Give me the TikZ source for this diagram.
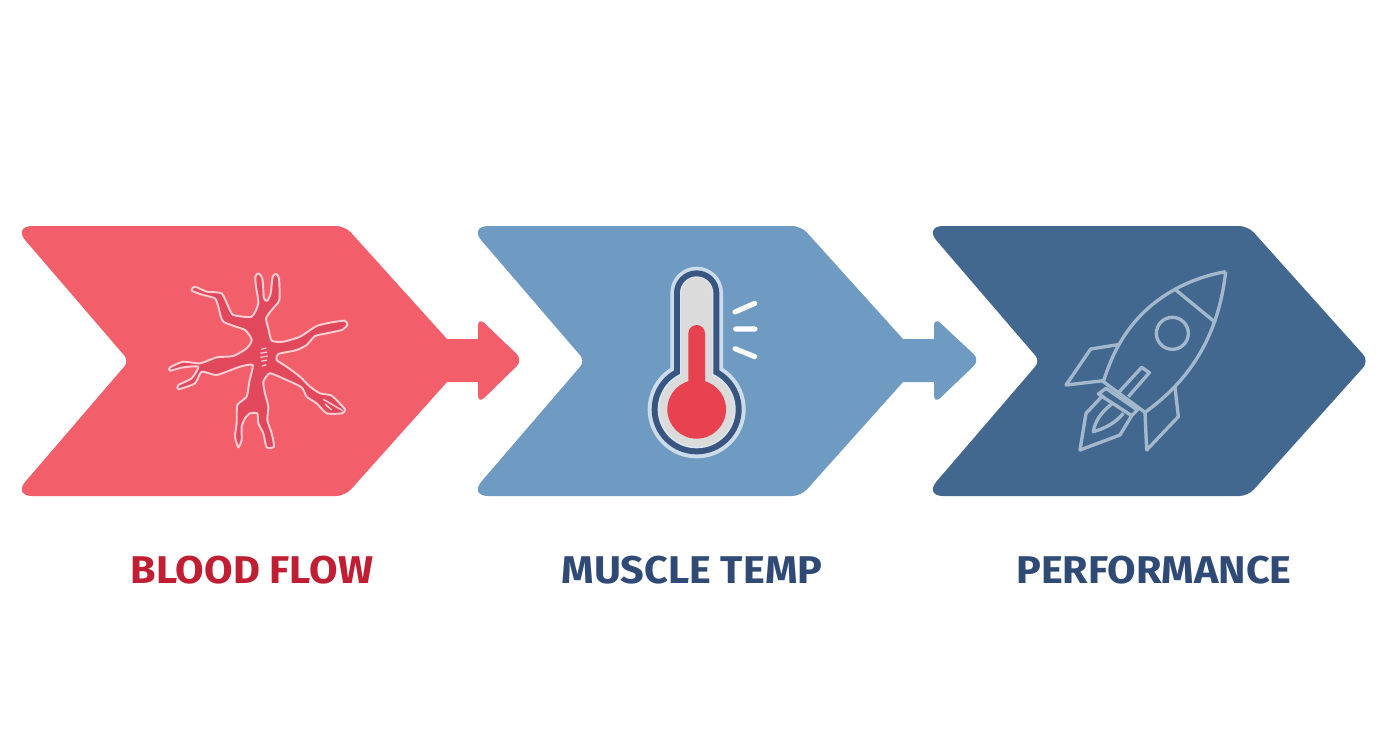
\documentclass[tikz,border=0pt]{standalone}
\usepackage{fontspec}
\setmainfont{Fira Sans}[FakeStretch=1.07]
\definecolor{flowred}{HTML}{F25F6B}
\definecolor{vesselred}{HTML}{E2485C}
\definecolor{thermred}{HTML}{E8414F}
\definecolor{tempblue}{HTML}{6F9BC3}
\definecolor{perfblue}{HTML}{42688F}
\definecolor{rocketline}{HTML}{A3B8CC}
\definecolor{labelred}{HTML}{C01F33}
\definecolor{labelblue}{HTML}{2F4A75}
\tikzset{
	label text/.style={font=\bfseries\fontsize{22}{26}\selectfont},
	rocket stroke/.style={draw=rocketline, line width=1.9pt, line join=round},
}

\begin{document}
\begin{tikzpicture}[x=0.02cm, y=-0.02cm]
	\useasboundingbox (0,0) rectangle (1392,752);

	% Draw chevrons
	% Red
	\fill[flowred] (150,226) [rounded corners=5pt] -- (345,226) [sharp corners] -- (447,339) -- (478,339)
		[rounded corners=5pt] -- (478,317) -- (523,360) -- (478,404) [sharp corners] -- (478,382) -- (447,382)
		[rounded corners=5pt] -- (345,496) [rounded corners=11pt] -- (13,496) [rounded corners=4pt] -- (129,361)
		[rounded corners=11pt] -- (13,226) [sharp corners] -- cycle;
	% Blue
	\fill[tempblue] (606,226) [rounded corners=5pt] -- (801,226) [sharp corners] -- (903,339) -- (934,339)
		[rounded corners=5pt] -- (934,317) -- (980,360) -- (934,404) [sharp corners] -- (934,382) -- (903,382)
		[rounded corners=5pt] -- (801,496) [rounded corners=11pt] -- (469,496) [rounded corners=4pt] -- (585,361)
		[rounded corners=11pt] -- (469,226) [sharp corners] -- cycle;
	% Dark blue
	\fill[perfblue] (1060,226) [rounded corners=5pt] -- (1248,226) -- (1369,361) -- (1248,496)
		[rounded corners=11pt] -- (924,496) [rounded corners=4pt] -- (1040,361)
		[rounded corners=11pt] -- (924,226) [sharp corners] -- cycle;

	% Vessel icon
	\begin{scope}[shift={(150,250)}, scale=1/3]
		\filldraw[fill=vesselred, draw=white!70!flowred, line width=1.1pt, line join=round]
			plot[smooth cycle, tension=0.35] coordinates {
			(325,70) (337,85) (342,145) (352,152) (362,130) (368,80) (378,72) (387,85) (388,150) (365,180)
			(348,205) (355,235) (365,272) (400,275) (450,260) (500,228) (540,218) (585,212) (592,225) (575,240)
			(530,250) (495,258) (470,285) (440,300) (385,312) (380,330) (410,350) (450,380) (480,410) (510,430)
			(545,437) (585,478) (575,490) (530,490) (500,460) (470,440) (455,412) (410,390) (360,370) (340,395)
			(345,430) (355,470) (352,510) (365,550) (372,590) (350,592) (340,550) (325,520) (322,490) (300,490)
			(285,505) (275,530) (275,570) (265,592) (255,560) (260,520) (262,465) (290,440) (298,395) (308,345)
			(270,350) (200,375) (155,365) (135,400) (85,418) (85,405) (125,385) (145,350) (100,352) (60,362)
			(60,352) (100,335) (150,340) (200,322) (250,318) (290,295) (305,270) (285,240) (220,215) (205,170)
			(195,145) (160,135) (125,122) (135,110) (170,125) (215,130) (235,170) (250,195) (305,200) (325,160)
			(318,110) (316,80)};
		% Middle marks
		\draw[white!70!flowred, line width=0.7pt] (333,298) -- (349,294) (331,310) -- (352,306) (331,322) -- (353,318)
			(333,334) -- (351,330) (336,348) -- (349,344);
		% Lower right fork
		\draw[white!70!flowred, line width=0.8pt] (520,448) -- (578,482) (525,462) -- (545,480);
	\end{scope}

	% Thermometer icon
	\begin{scope}[shift={(620,250)}, scale=1/3]
		\foreach \layercol/\bulbr/\tubew in {white!65!tempblue/147/79, labelblue!85!tempblue/135/68, white!75!tempblue/117/50, black!14!white/112/46} {
			\fill[\layercol] (230,478) circle[radius=\bulbr];
			\fill[\layercol] (230-\tubew,478) -- (230-\tubew,129) arc[start angle=180, end angle=360, radius=\tubew]
				-- (230+\tubew,478) -- cycle;
		}
		\fill[thermred] (230,478) circle[radius=88];
		\fill[thermred] (205,478) -- (205,250) arc[start angle=180, end angle=360, radius=25] -- (255,478) -- cycle;
		% Heat ticks
		\draw[white, line width=2.9pt, line cap=round] (345,186) -- (404,160) (347,237) -- (405,237) (345,296) -- (404,320);
	\end{scope}

	% Rocket icon
	\begin{scope}[shift={(1050,250)}, scale=1/3]
		% Body
		\draw[rocket stroke] (527,65) .. controls (440,80) and (300,130) .. (215,270) .. controls (190,310) and (175,350) .. (160,395)
			-- (285,487) .. controls (370,425) and (500,310) .. (527,65);
		\draw[rocket stroke] (375,118) -- (497,218);
		\draw[rocket stroke] (367,250) circle[radius=48];
		% Fins
		\draw[rocket stroke] (210,283) -- (122,297) -- (48,405) -- (160,392);
		\draw[rocket stroke] (375,412) -- (385,500) -- (290,600) -- (285,487);
		% Stick
		\draw[rocket stroke] (208,425) -- (275,352) -- (298,368) -- (235,440);
		% Nozzle
		\draw[rocket stroke] (145,432) -- (168,415) -- (262,480) -- (245,497) -- cycle;
		% Flame
		\draw[rocket stroke] (160,435) -- (108,490) -- (90,600) -- (210,555) -- (245,497);
		\draw[rocket stroke] (185,462) .. controls (150,490) and (135,515) .. (130,545) .. controls (165,535) and (195,520) .. (220,490);
	\end{scope}

	% Add labels
	\node[label text, text=labelred] (flowlabel) at (252,570) {BLOOD FLOW};
	\node[label text, text=labelblue] (templabel) at (692,570) {MUSCLE TEMP};
	\node[label text, text=labelblue] (perflabel) at (1154,570) {PERFORMANCE};
\end{tikzpicture}
\end{document}
